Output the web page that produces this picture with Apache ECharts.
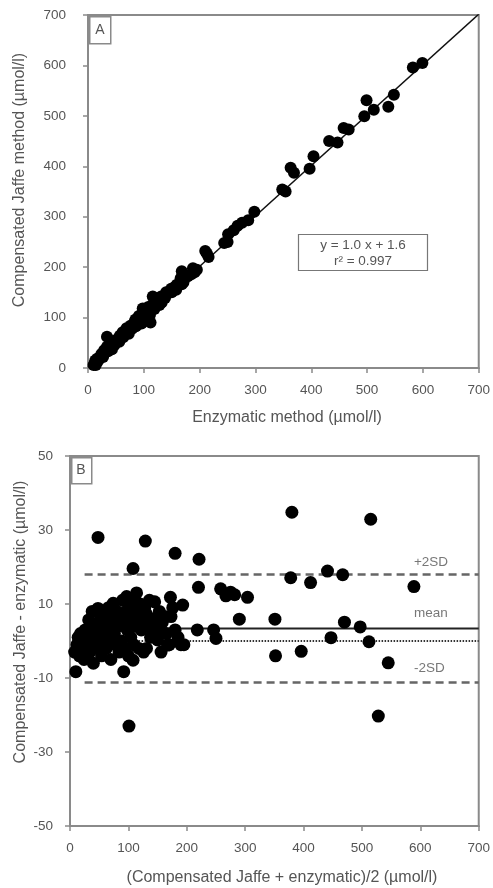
<!DOCTYPE html>
<html>
<head>
<meta charset="utf-8">
<script src="https://cdn.jsdelivr.net/npm/echarts@6/dist/echarts.min.js"></script>
<style>
  html, body { margin: 0; padding: 0; background: #fff; }
  #chart { width: 493px; height: 888px; }
</style>
</head>
<body>
<div id="chart"></div>
<script>
// Panel A: creatinine by enzymatic method (x) vs compensated Jaffe method (y), µmol/l
const enzymaticA = [34,116,168,210,98,213,251,261,268,276, 298,287,348,363,499,369,404,432,458,582,
  467,495,447,512,354,397,548,538,112,216, 244,250,166,188,195,168,14,96,111,43, 599,
  10,13,13,18,17,21,22,27,24,29,30, 29,36,35,34,42,42,47,44,49,49,56,55,58,57,
  63,62,62,68,73,69,69,75,79,76,80,86,83,88,85,90,95,92,97,102,91,
  99,104,102,110,105,110,108,113,119,115,121,121,128,124,126,132,132,131,138,
  139,140,147,150,149,158,156,159,164,171,170,172,179,185,191];
const jaffeA = [62,142,192,232,118,227,265,273,282,288, 310,293,354,397,531,387,420,450,476,596,
  473,499,447,512,350,395,542,518,90,220, 248,250,178,198,195,166,6,88,105,37, 605,
  6,12,15,14,19,19,22,22,28,28,31, 35,33,37,42,42,46,45,52,51,55,52,58,58,64,
  61,66,71,69,68,75,79,77,78,84,84,83,90,88,96,95,93,100,100,98,103,
  105,105,111,109,116,114,121,120,117,125,124,127,125,133,134,130,136,142,139,
  145,150,150,150,157,155,161,165,166,170,176,181,182,186,190];

// Regression fit shown in panel A
const fitSlope = 1.0;
const fitIntercept = 1.6;
const fitR2 = 0.997;

// Panel B: Bland–Altman, mean of both methods (x) vs difference (y)
const meanB = [48,129,180,221,108,220,258,267,275,282, 304,290,351,380,515,378,412,441,467,589,
  470,497,447,512,352,396,545,528,101,218, 246,250,172,193,195,167,10,92,108,40,
  8,12,14,16,18,20,22,24,26,28,30, 32,34,36,38,42,44,46,48,50,52,54,56,58,60,
  62,64,66,68,70,72,74,76,78,80,82,84,86,88,90,92,94,96,98,100,97,
  102,104,106,109,110,112,114,116,118,120,122,124,126,128,130,131,134,136,138,
  142,145,148,150,153,156,158,162,165,170,173,176,180,185,190];
const diffB = [28,27,23.7,22.1,19.6,14.5,14.1,12.2,13.2,12.5, 11.8,5.9,5.9,34.8,32.9,17.1,15.8,18.9,17.9,14.7,
  5.1,3.8,0.9,-0.2,-4.0,-2.8,-5.9,-20.3,-23,3.0, 3.0,0.7,11.8,9.7,-1.0,-1.1,-8.3,-8.3,-5.2,-6,
  -3,-1,1,-4,2,-2,0,-5,3,-1,1, 5.7,-3,2,8,0,4,-2,8.8,2,6,-4,3,0,7,
  -2,4,9,1,-5,6,10.2,2,-1,8,4,-3,7,0,11,5,-2,8,3,-4,12,
  6,1,9,-1,11,4,13,7,-2,10,3,6,-3,9,7.5,-2,4,11,1,
  6,10.6,3,0.3,8,-3,5,6.6,2,-1,6.6,9,3,1,-1];

// Reference lines of panel B
const upperSD = 18.0;
const meanDiff = 3.4;
const zeroDiff = 0;
const lowerSD = -11.2;
const refLabels = ['+2SD', 'mean', '-2SD'];
const refLabelX = [589, 589, 589];
const refLabelY = [21.4, 7.6, -7.3];
const lineStartX = 25;

const axisTicks = { a: [0, 700, 100], bX: [0, 700, 100], bY: [-50, 50, 20] };

const FONT = "'Liberation Sans', Arial, sans-serif";
const GREY = '#555';
const AXIS = '#8a8a8a';

const zip = (xs, ys) => xs.map((x, i) => [x, ys[i]]);
const hline = (y) => [[lineStartX, y], [700, y]];

function axis(gridIndex, [min, max, interval], margin) {
  return {
    gridIndex, type: 'value', min, max, interval,
    axisLine: { show: true, onZero: false, lineStyle: { color: AXIS, width: 2 } },
    axisTick: { show: true, length: 5, lineStyle: { color: AXIS, width: 1.5 } },
    axisLabel: { color: GREY, fontFamily: FONT, fontSize: 13.5, margin },
    splitLine: { show: false }
  };
}

const chart = echarts.init(document.getElementById('chart'), null, { renderer: 'canvas' });

chart.setOption({
  animation: false,
  backgroundColor: '#fff',
  grid: [
    { left: 88, top: 15, width: 394, height: 353, show: true, borderColor: AXIS, borderWidth: 2 },
    { left: 70, top: 456, width: 411, height: 370, show: true, borderColor: AXIS, borderWidth: 2 }
  ],
  xAxis: [axis(0, axisTicks.a, 15), axis(1, axisTicks.bX, 15)],
  yAxis: [axis(0, axisTicks.a, 22), axis(1, axisTicks.bY, 17)],
  series: [
    {
      type: 'line', xAxisIndex: 0, yAxisIndex: 0, symbol: 'none', z: 2,
      data: [[0, fitIntercept], [700, fitSlope * 700 + fitIntercept]],
      lineStyle: { color: '#111', width: 1.5 }, clip: true
    },
    {
      type: 'scatter', xAxisIndex: 0, yAxisIndex: 0, z: 3,
      symbolSize: 12, itemStyle: { color: '#000', opacity: 1 },
      data: zip(enzymaticA, jaffeA)
    },
    {
      type: 'line', xAxisIndex: 1, yAxisIndex: 1, symbol: 'none', z: 2,
      data: hline(upperSD), lineStyle: { color: '#666', width: 2.5, type: [8, 5] }
    },
    {
      type: 'line', xAxisIndex: 1, yAxisIndex: 1, symbol: 'none', z: 2,
      data: hline(lowerSD), lineStyle: { color: '#666', width: 2.5, type: [8, 5] }
    },
    {
      type: 'line', xAxisIndex: 1, yAxisIndex: 1, symbol: 'none', z: 2,
      data: hline(meanDiff), lineStyle: { color: '#222', width: 2 }
    },
    {
      type: 'line', xAxisIndex: 1, yAxisIndex: 1, symbol: 'none', z: 2,
      data: hline(zeroDiff), lineStyle: { color: '#333', width: 2, type: [1.5, 1.5] }
    },
    {
      type: 'scatter', xAxisIndex: 1, yAxisIndex: 1, z: 3,
      symbolSize: 13, itemStyle: { color: '#000', opacity: 1 },
      data: zip(meanB, diffB)
    },
    {
      type: 'scatter', xAxisIndex: 1, yAxisIndex: 1, z: 4, symbolSize: 0,
      data: refLabels.map((t, i) => ({ value: [refLabelX[i], refLabelY[i]], name: t })),
      label: {
        show: true, position: 'right', distance: 0, formatter: p => p.name,
        color: GREY, fontFamily: FONT, fontSize: 13.5
      }
    }
  ],
  graphic: [
    // panel letters
    { type: 'rect', left: 89, top: 16, shape: { width: 21, height: 27 },
      style: { fill: '#fff', stroke: AXIS, lineWidth: 1.5 } },
    { type: 'text', x: 100, y: 30, style: { text: 'A', font: '14px ' + FONT, fill: GREY, align: 'center', verticalAlign: 'middle' } },
    { type: 'rect', left: 71, top: 457, shape: { width: 20, height: 26 },
      style: { fill: '#fff', stroke: AXIS, lineWidth: 1.5 } },
    { type: 'text', x: 81, y: 470, style: { text: 'B', font: '14px ' + FONT, fill: GREY, align: 'center', verticalAlign: 'middle' } },
    // regression box
    { type: 'rect', shape: { x: 298.5, y: 234.5, width: 129, height: 36 },
      style: { fill: '#fff', stroke: '#777', lineWidth: 1.2 } },
    { type: 'text', x: 363, y: 245, style: { text: 'y = ' + fitSlope.toFixed(1) + ' x + ' + fitIntercept.toFixed(1),
      font: '13.5px ' + FONT, fill: GREY, align: 'center', verticalAlign: 'middle' } },
    { type: 'text', x: 363, y: 261, style: { text: 'r² = ' + fitR2.toFixed(3),
      font: '13.5px ' + FONT, fill: GREY, align: 'center', verticalAlign: 'middle' } },
    // axis titles
    { type: 'text', x: 287, y: 418, style: { text: 'Enzymatic method (µmol/l)',
      font: '16px ' + FONT, fill: GREY, align: 'center', verticalAlign: 'middle' } },
    { type: 'text', x: 20, y: 180, rotation: Math.PI / 2, style: { text: 'Compensated Jaffe method (µmol/l)',
      font: '16px ' + FONT, fill: GREY, align: 'center', verticalAlign: 'middle' } },
    { type: 'text', x: 282, y: 878, style: { text: '(Compensated Jaffe + enzymatic)/2 (µmol/l)',
      font: '16px ' + FONT, fill: GREY, align: 'center', verticalAlign: 'middle' } },
    { type: 'text', x: 21, y: 622, rotation: Math.PI / 2, style: { text: 'Compensated Jaffe - enzymatic (µmol/l)',
      font: '16px ' + FONT, fill: GREY, align: 'center', verticalAlign: 'middle' } }
  ]
});
</script>
</body>
</html>
